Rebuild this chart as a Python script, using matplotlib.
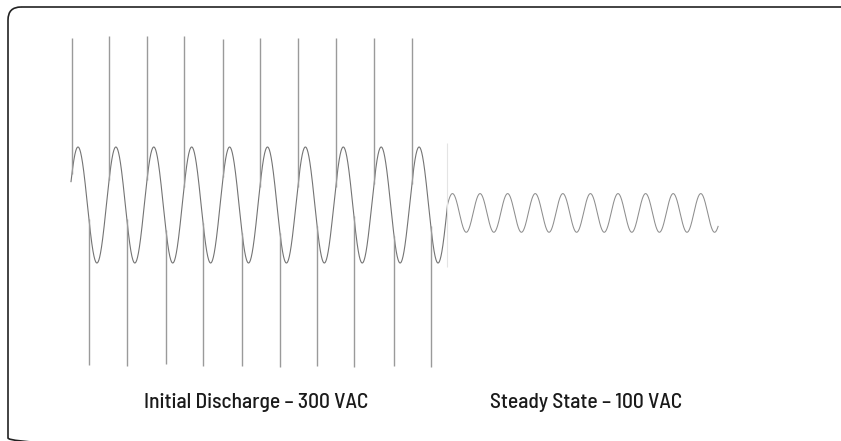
import numpy as np
import matplotlib.pyplot as plt
from matplotlib.patches import FancyBboxPatch

# x is measured in cycles of the 300 VAC wave, y in volts
discharge_amp = 300
discharge_span = [0.066, 10.0]

steady_amp = 100
steady_offset = -41
steady_period = 0.728      # relative to the discharge period
steady_phase0 = 0.07
steady_span = [10.0, 17.14]

spike_up_t = [0.09, 1.07, 2.07, 3.05, 4.08, 5.05, 6.05, 7.05, 8.06, 9.06]
spike_up_peak = [866, 873, 873, 873, 860, 866, 866, 866, 866, 866]
spike_dn_t = [0.54, 1.54, 2.57, 3.55, 4.58, 5.58, 6.56, 7.53, 8.59, 9.56]
spike_dn_peak = [-828, -833, -823, -833, -833, -838, -833, -838, -833, -838]

labels = ["Initial Discharge \u2013 300 VAC", "Steady State \u2013 100 VAC"]
label_t = [4.95, 13.65]
label_v = -1019


def discharge(t):
    return discharge_amp * np.sin(2 * np.pi * np.asarray(t))


def steady(t):
    ph = (np.asarray(t) - steady_span[0]) / steady_period + steady_phase0
    return steady_offset + steady_amp * np.sin(2 * np.pi * ph)


plt.rcParams['font.family'] = ['Barlow Semi Condensed', 'DejaVu Sans']

fig = plt.figure(figsize=(8.41, 4.41), dpi=100)
ax = fig.add_axes([0, 0, 1, 1])
ax.set_xlim(-68.5 / 37.9, (841 - 68.5) / 37.9)
ax.set_ylim((205 - 441) * 300 / 58, 205 * 300 / 58)
ax.axis('off')

wave_col = '#747474'
spike_col = '#9a9a9a'

t1 = np.linspace(discharge_span[0], discharge_span[1], 3000)
ax.plot(t1, discharge(t1), color=wave_col, lw=0.8)

t2 = np.linspace(steady_span[0], steady_span[1], 2000)
ax.plot(t2, steady(t2), color='#8e8e8e', lw=0.75)

# faint edge where the two traces meet
ax.vlines(steady_span[0], -321, 321, color='#e4e4e4', lw=0.8)

ax.vlines(spike_up_t, discharge(spike_up_t), spike_up_peak, color=spike_col, lw=1.0)
ax.vlines(spike_dn_t, discharge(spike_dn_t), spike_dn_peak, color=spike_col, lw=1.0)

for txt, t in zip(labels, label_t):
    ax.text(t, label_v, txt, ha='center', va='center', fontsize=15.5,
            fontweight='medium', color='#1a1a1a')

# rounded frame, only top-left corner visible
fr = fig.add_axes([0, 0, 1, 1], zorder=3)
fr.set_xlim(0, 841)
fr.set_ylim(441, 0)
fr.axis('off')
fr.patch.set_visible(False)
fr.add_patch(FancyBboxPatch((8, 7), 860, 444, boxstyle='round,pad=0,rounding_size=13',
                            fill=False, edgecolor='#222222', lw=1.2))

fig.savefig('out.png', dpi=100)
